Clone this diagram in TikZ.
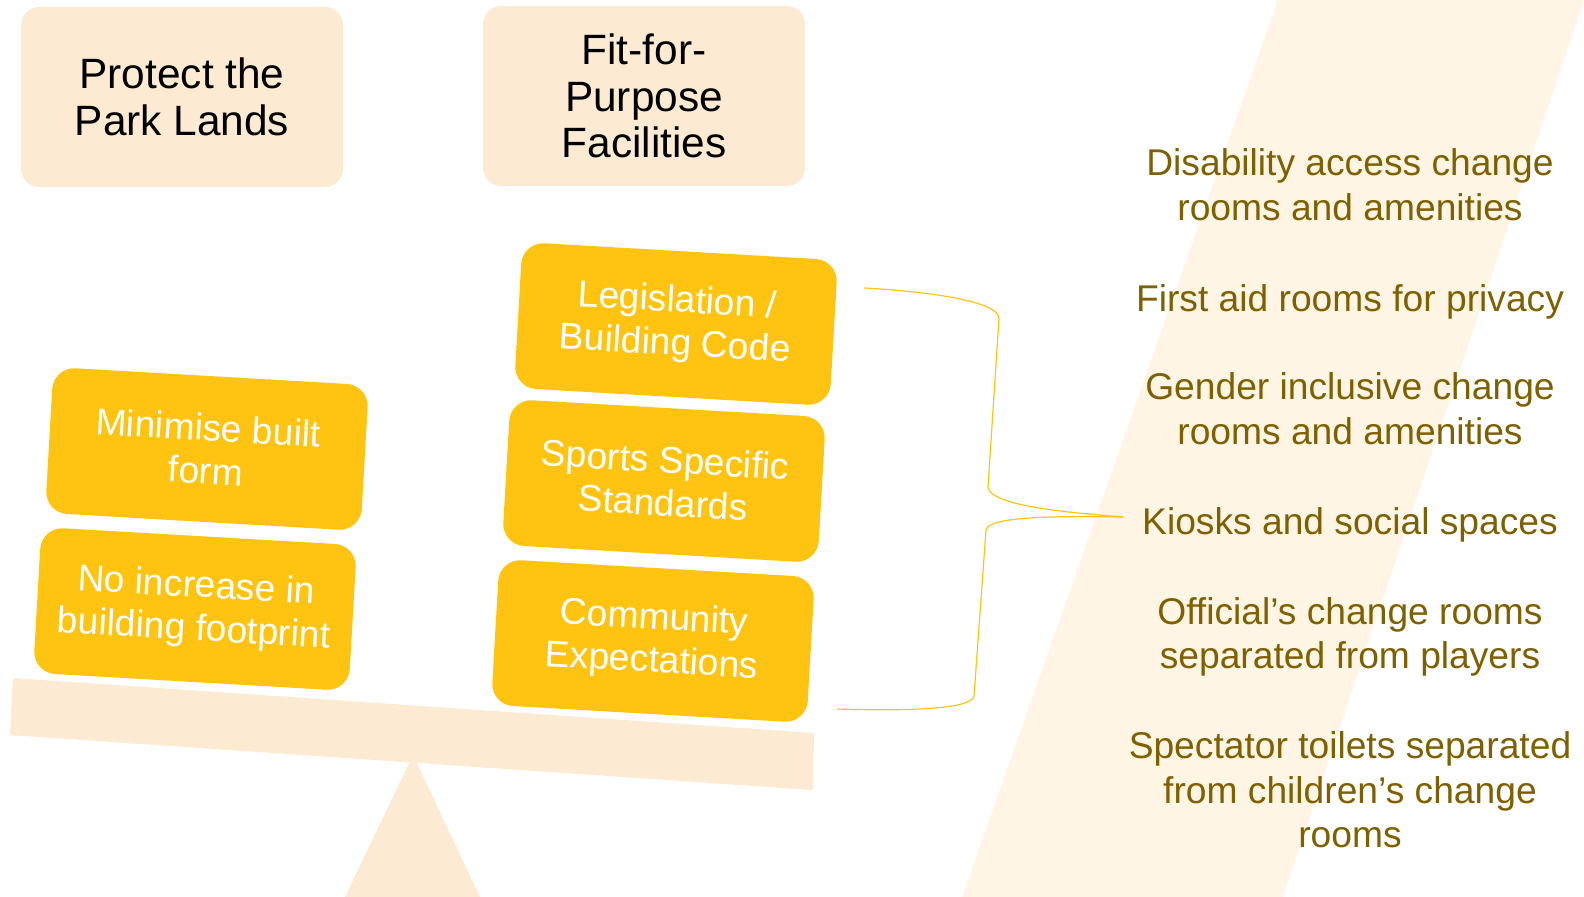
\documentclass[tikz,border=0pt]{standalone}
\usepackage{fontspec}
\setmainfont{Liberation Sans}
\definecolor{peach}{RGB}{253,234,211}
\definecolor{cream}{RGB}{254,245,229}
\definecolor{amber}{RGB}{255,196,18}
\definecolor{gold}{RGB}{127,96,0}

\tikzstyle{goal}=[fill=peach,rounded corners=9pt,minimum width=161pt,minimum height=90pt,inner sep=0pt,align=center,font=\fontsize{21.2}{23.4}\selectfont]
\tikzstyle{block}=[fill=amber,text=white,rounded corners=11pt,minimum width=158pt,minimum height=73pt,inner sep=0pt,align=center,rotate=-3.3,font=\fontsize{18.6}{21.6}\selectfont]
\tikzstyle{need}=[text=gold,align=center,font=\fontsize{18.6}{22.3}\selectfont]
\tikzstyle{brace}=[draw=amber,line width=0.6pt]
\newcommand{\pxunit}{0.5pt}

\begin{document}
\begin{tikzpicture}[x=\pxunit, y=-\pxunit]
    \useasboundingbox (0,0) rectangle (1584,897);
    % Background stripe, beam and pivot of the scale
    \fill[cream] (1278,0) -- (1584,0) -- (1283,897) -- (962,897) -- cycle;
    \fill[peach] (413,755) -- (480,897) -- (345,897) -- cycle;
    \fill[peach] (13,678) -- (814,733) -- (813,790) -- (10,735) -- cycle;
    % The two headings
    \node[goal] (park) at (182,97) {Protect the\\Park Lands};
    \node[goal] (fit) at (644,96) {Fit-for-\\Purpose\\Facilities};
    % Blocks resting on the beam
    \foreach \pos/\name/\txt in {{(207,449)/minimise/{Minimise built\\form}},
        {(195,609)/footprint/{No increase in\\building footprint}},
        {(676,324)/legis/{Legislation /\\Building Code}},
        {(664,481)/sports/{Sports Specific\\Standards}},
        {(653,641)/community/{Community\\Expectations}}}
        \node[block] (\name) at \pos {\txt};
    % Needs on the right
    \foreach \ypos/\name/\txt in {185/disab/{Disability access change\\rooms and amenities},
        302/firstaid/{First aid rooms for privacy},
        409/gender/{Gender inclusive change\\rooms and amenities},
        525/kiosk/{Kiosks and social spaces},
        637/official/{Official’s change rooms\\separated from players},
        790/toilets/{Spectator toilets separated\\from children’s change\\rooms}}
        \node[need] (\name) at (1350,\ypos) {\txt};
    % Brace joining the blocks to the needs
    \coordinate (btop) at (864,288);
    \coordinate (btip) at (1123,517);
    \coordinate (bbot) at (837,709);
    \path[brace] (btop) .. controls (935,292) and (998,302) .. (999,318)
        -- (988,487) .. controls (990,505) and (1060,512) .. (btip);
    \path[brace] (btip) .. controls (1060,516) and (988,516) .. (986,530)
        -- (974,696) .. controls (972,710) and (900,711) .. (bbot);
\end{tikzpicture}
\end{document}
